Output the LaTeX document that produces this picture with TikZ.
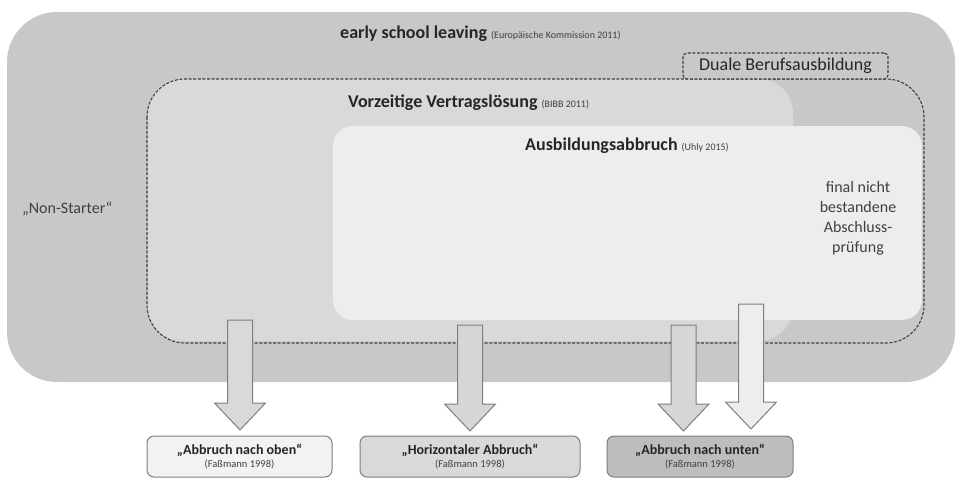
\documentclass[tikz,border=0pt]{standalone}
\usepackage{fontspec}
\setmainfont{Carlito}
\usetikzlibrary{calc}

\definecolor{outerfill}{HTML}{C8C8C8}
\definecolor{midfill}{HTML}{D9D9D9}
\definecolor{innerfill}{HTML}{EDEDED}
\definecolor{ink}{HTML}{262626}
\definecolor{inksoft}{HTML}{404040}
\definecolor{edge}{HTML}{7F7F7F}

\newcommand{\fs}[1]{\fontsize{#1}{#1}\selectfont}
\newcommand{\srcnote}[1]{{\fs{10}\mdseries\color{inksoft}#1}}
\newcommand{\outcometext}[1]{{\fs{14}\bfseries #1}\\{\fs{10.5}\color{inksoft}(Faßmann 1998)}}

% block arrow pointing down: centre x, top y, tip y, fill colour
\newcommand{\droparrow}[4]{%
  \draw[blockarr,fill=#4]
    (#1-12.5,#2) -- (#1+12.5,#2) -- (#1+12.5,#3-27) -- (#1+25.5,#3-27)
    -- (#1,#3) -- (#1-25.5,#3-27) -- (#1-12.5,#3-27) -- cycle;}

\tikzset{
  dashframe/.style={draw=inksoft, line width=1.1pt, dash pattern=on 3pt off 1.6pt},
  blockarr/.style={draw=edge, line width=1pt, line join=miter},
  title/.style={anchor=west, inner sep=0pt, text=ink, font=\fs{18}\bfseries},
  outcome/.style={draw=edge, line width=1pt, rounded corners=7pt, minimum height=41pt,
    inner sep=0pt, align=center, text=ink, font=\fs{13}},
}

\begin{document}
\begin{tikzpicture}[x=1pt,y=-1pt]
  \useasboundingbox (0,0) rectangle (958,479);
  \fill[white] (0,0) rectangle (958,479);

  % nested areas
  \fill[outerfill] (7,12) [rounded corners=50pt] rectangle (955,382);
  \fill[midfill] (148,79) [rounded corners=34pt] rectangle (793,341);
  \fill[innerfill] (333,126) [rounded corners=20pt] rectangle (922,320);

  % dual vocational training frame
  \draw[dashframe] (147,79) [rounded corners=38pt] rectangle (924,343);
  \node[dashframe, fill=outerfill, rounded corners=4pt, minimum width=205pt,
        minimum height=26pt, inner sep=0pt, text=ink, font=\fs{18}]
        (dual) at (785.5,66) {Duale Berufsausbildung};

  % labels
  \node[title] (esl) at (340,34) {early school leaving \srcnote{(Europäische Kommission 2011)}};
  \node[title] (vvl) at (348,103) {Vorzeitige Vertragslösung \srcnote{(BIBB 2011)}};
  \node[title] (aba) at (525,146) {Ausbildungsabbruch \srcnote{(Uhly 2015)}};
  \node[anchor=west, inner sep=0pt, text=inksoft, font=\fs{16}] (ns) at (22,209) {„Non-Starter“};
  \node[align=center, inner sep=0pt, text=inksoft, font=\fs{16},
        execute at begin node={\setlength{\baselineskip}{20pt}}]
        (fin) at (858,218) {final nicht\\bestandene\\Abschluss-\\prüfung};

  % outcome boxes
  \node[outcome, fill=white!95!black, minimum width=185pt] (up) at (239.5,456.5)
    {\outcometext{„Abbruch nach oben“}};
  \node[outcome, fill=midfill, minimum width=220pt] (hor) at (470,456.5)
    {\outcometext{„Horizontaler Abbruch“}};
  \node[outcome, fill=white!74!black, minimum width=186pt] (down) at (700,456.5)
    {\outcometext{„Abbruch nach unten“}};

  % arrows into the outcome boxes
  \droparrow{240}{320}{430}{white!85!black}
  \droparrow{470}{325}{431}{white!84!black}
  \droparrow{683.5}{325}{431}{white!84!black}
  \droparrow{751}{304}{429}{white!93!black}
\end{tikzpicture}
\end{document}
